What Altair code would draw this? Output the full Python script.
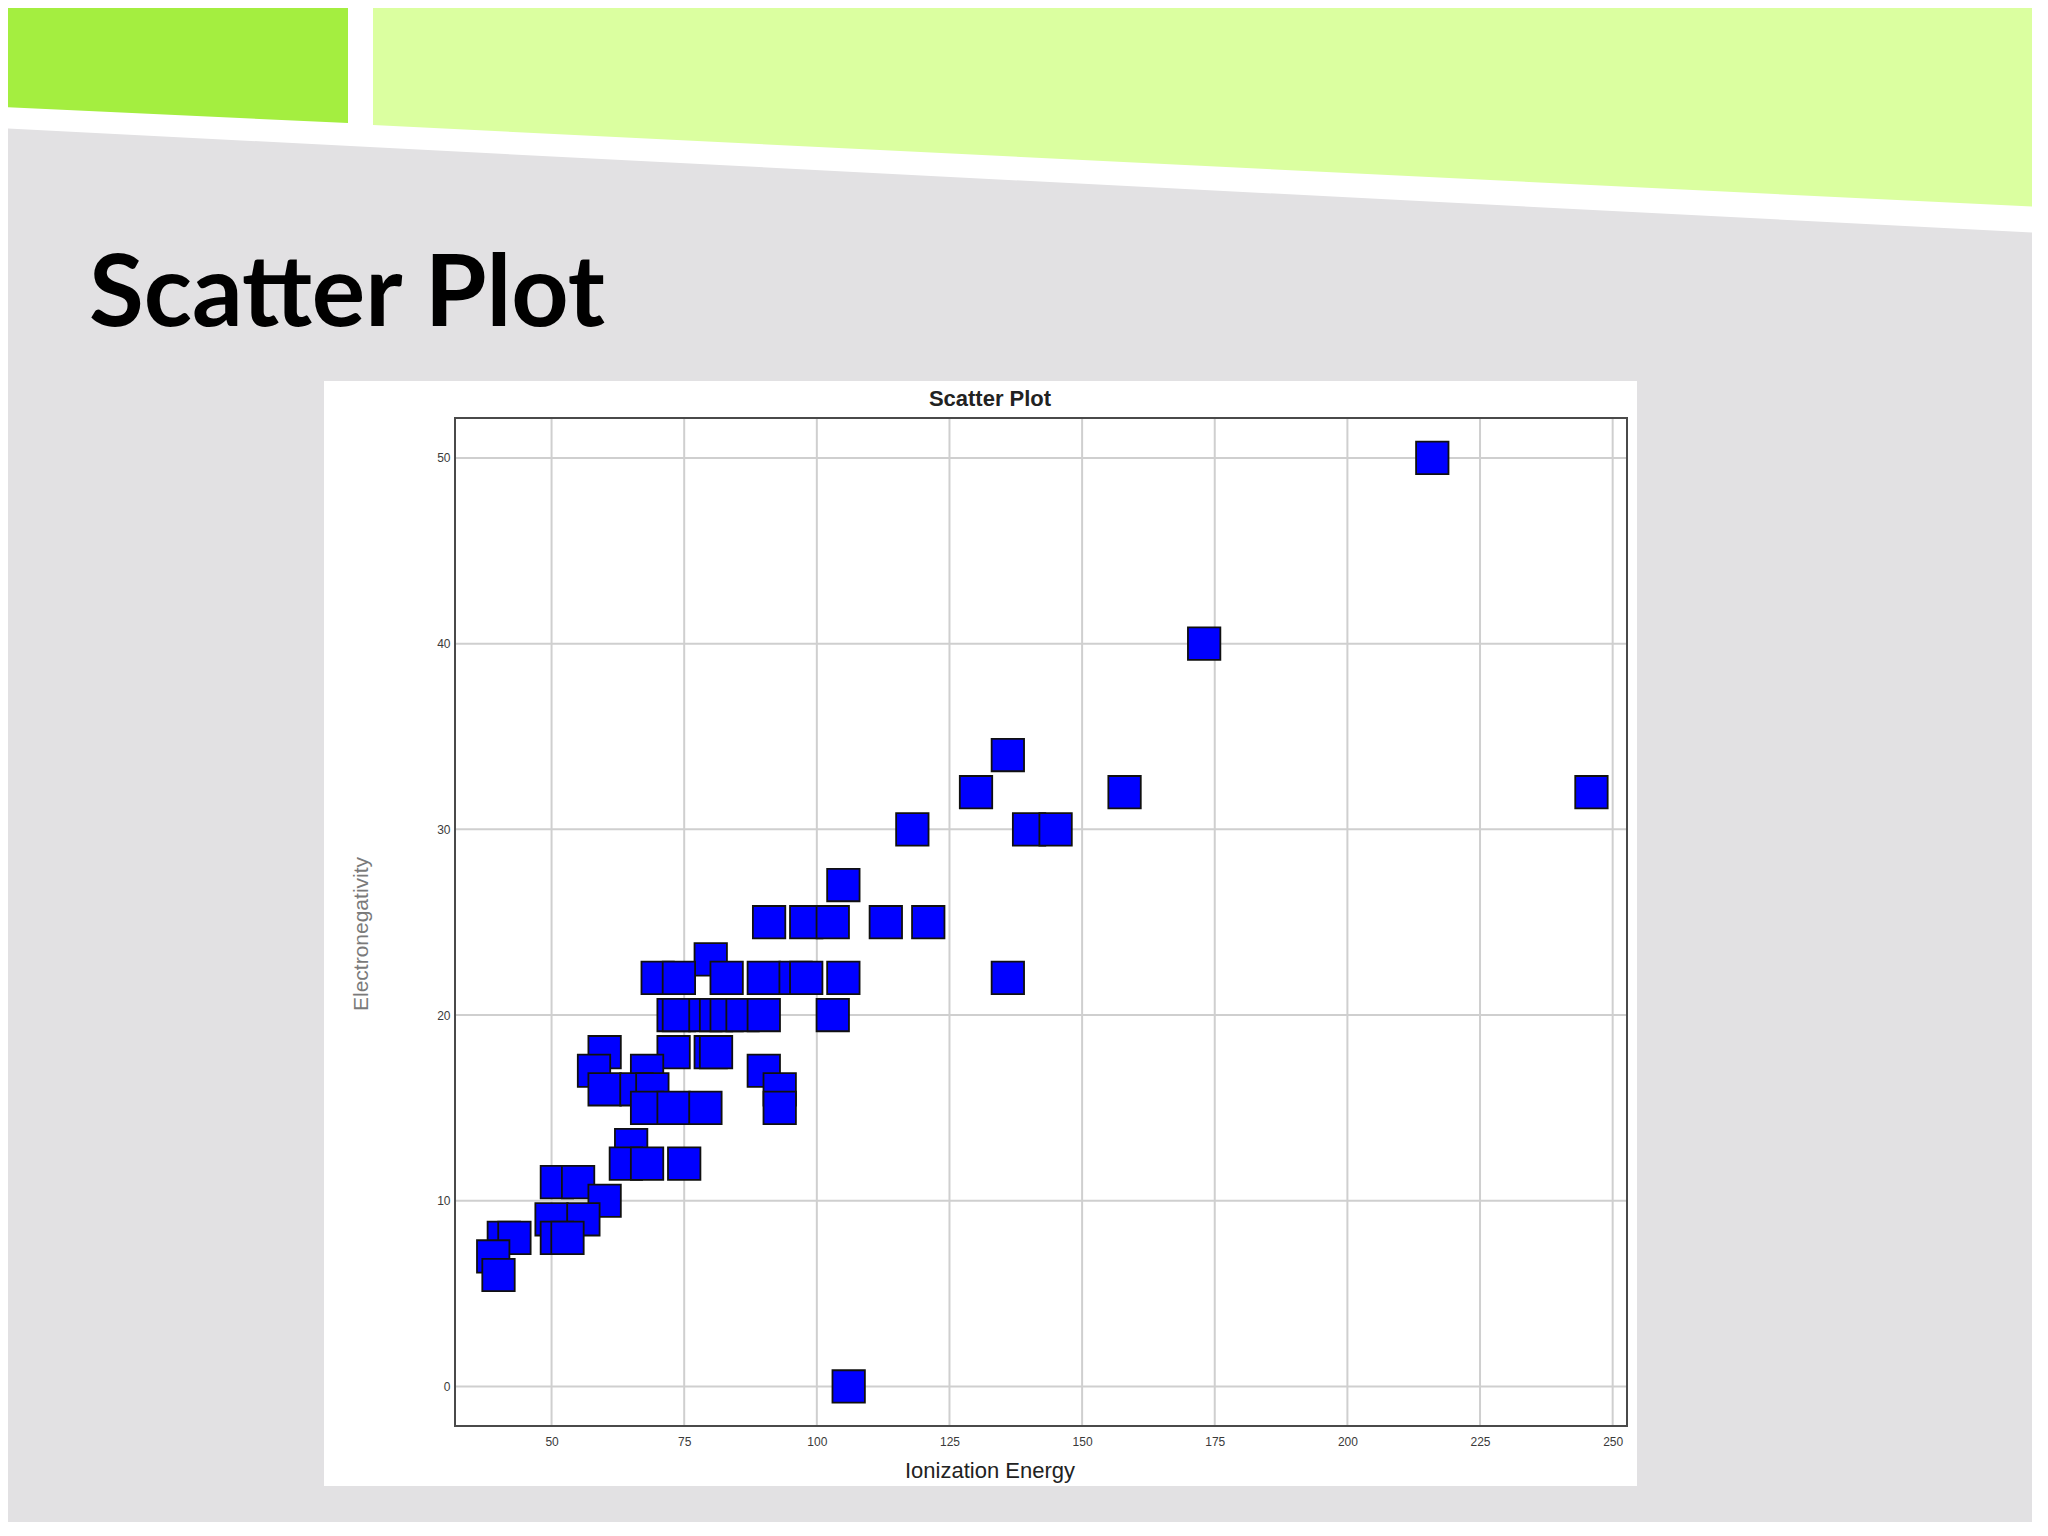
import altair as alt
import pandas as pd

# ---------------- data ----------------
x_vals = [216, 173, 136, 130, 158, 246, 118, 140, 145, 105,
          91, 98, 103, 113, 121,
          80,
          70, 74, 83, 90, 96, 98, 105, 136,
          73, 74, 79, 81, 83, 86, 90, 103,
          60, 73, 80, 81,
          58, 68, 90,
          60, 66, 69, 93,
          68, 73, 79, 93,
          65,
          64, 68, 75,
          51, 55,
          60,
          50, 56,
          51, 53, 41, 43,
          39,
          40,
          106]
y_vals = [50, 40, 34, 32, 32, 32, 30, 30, 30, 27,
          25, 25, 25, 25, 25,
          23,
          22, 22, 22, 22, 22, 22, 22, 22,
          20, 20, 20, 20, 20, 20, 20, 20,
          18, 18, 18, 18,
          17, 17, 17,
          16, 16, 16, 16,
          15, 15, 15, 15,
          13,
          12, 12, 12,
          11, 11,
          10,
          9, 9,
          8, 8, 8, 8,
          7,
          6,
          0]
x_ticks = [50, 75, 100, 125, 150, 175, 200, 225, 250]
y_ticks = [0, 10, 20, 30, 40, 50]

slide_title = "Scatter Plot"
chart_title = "Scatter Plot"
x_title = "Ionization Energy"
y_title = "Electronegativity"

# ---------------- layout (page pixels) ----------------
PW, PH = 1172, 1008          # plot area size
OX, OY = 455, 418            # plot area top-left on the page


def lx(px):
    return px - OX


def ly(py):
    return py - OY


xs = alt.Scale(domain=[31.8, 252.7], nice=False, zero=False)
ys = alt.Scale(domain=[-2.13, 52.15], nice=False, zero=False)
one = alt.Data(values=[{"k": 0}])


def band(x0, x1, yb0, yb1, color):
    df = pd.DataFrame({"px": [lx(x0), lx(x1)],
                       "py": [ly(-20), ly(-20)],
                       "py2": [ly(yb0), ly(yb1)]})
    return alt.Chart(df).mark_area(color=color, opacity=1).encode(
        x=alt.X("px:Q", scale=None),
        y=alt.Y("py:Q", scale=None),
        y2="py2:Q")


white_stripe = band(0, 2060, 128, 234, "#ffffff")
dark_green = band(0, 348, 107, 123, "#a4ee40")
light_green = band(373, 2060, 125, 208, "#dbffa0")

panel = alt.Chart(one).mark_rect(color="white").encode(
    x=alt.value(lx(324)), x2=alt.value(lx(1637)),
    y=alt.value(ly(381)), y2=alt.value(ly(1486)))

vgrid = alt.Chart(pd.DataFrame({"t": x_ticks})).mark_rule(
    color="#cfcfcf", strokeWidth=2).encode(x=alt.X("t:Q", scale=xs))
hgrid = alt.Chart(pd.DataFrame({"t": y_ticks})).mark_rule(
    color="#cfcfcf", strokeWidth=2).encode(y=alt.Y("t:Q", scale=ys))

frame = alt.Chart(one).mark_rect(fillOpacity=0, stroke="#4a4a4a", strokeWidth=2).encode(
    x=alt.value(0), x2=alt.value(PW), y=alt.value(0), y2=alt.value(PH))

pts = pd.DataFrame({"ie": x_vals, "en": y_vals})
points = alt.Chart(pts).mark_point(
    shape="square", filled=True, fill="#0000ff", stroke="#101010",
    strokeWidth=1.8, opacity=1, fillOpacity=1, strokeOpacity=1, size=1050
).encode(
    x=alt.X("ie:Q", scale=xs,
            axis=alt.Axis(values=x_ticks, title=None, grid=False, ticks=False,
                          domain=False, labelPadding=10, labelFontSize=12,
                          labelColor="#3a3a3a", labelFont="Liberation Sans",
                          zindex=1)),
    y=alt.Y("en:Q", scale=ys,
            axis=alt.Axis(values=y_ticks, title=None, grid=False, ticks=False,
                          domain=False, labelPadding=5, labelFontSize=12,
                          labelColor="#3a3a3a", labelFont="Liberation Sans",
                          zindex=1)),
)

t_slide = alt.Chart(one).mark_text(
    font="Lato", fontWeight="bold", fontSize=100, color="#000000",
    align="left", baseline="alphabetic").encode(
    x=alt.value(lx(89)), y=alt.value(ly(326)), text=alt.value(slide_title))

t_chart = alt.Chart(one).mark_text(
    font="Liberation Sans", fontWeight="bold", fontSize=22, color="#222222",
    align="center", baseline="middle").encode(
    x=alt.value(lx(990)), y=alt.value(ly(399)), text=alt.value(chart_title))

t_x = alt.Chart(one).mark_text(
    font="Liberation Sans", fontSize=22, color="#222222",
    align="center", baseline="middle").encode(
    x=alt.value(lx(990)), y=alt.value(ly(1471)), text=alt.value(x_title))

t_y = alt.Chart(one).mark_text(
    font="Liberation Sans", fontSize=21, color="#7a7a7a", angle=270,
    align="center", baseline="middle").encode(
    x=alt.value(lx(362)), y=alt.value(ly(934)), text=alt.value(y_title))

chart = alt.layer(
    white_stripe, dark_green, light_green, panel, vgrid, hgrid, frame,
    points, t_slide, t_chart, t_x, t_y
).properties(
    width=PW, height=PH,
    autosize=alt.AutoSizeParams(type="none"),
    padding={"left": OX - 8, "top": OY - 8, "right": 2024 - (OX - 8) - PW,
             "bottom": 1514 - (OY - 8) - PH},
    background="#e2e1e3",
).configure_view(stroke=None, fill="white")

chart.save("out.html", embed_options={"renderer": "svg", "actions": False})
